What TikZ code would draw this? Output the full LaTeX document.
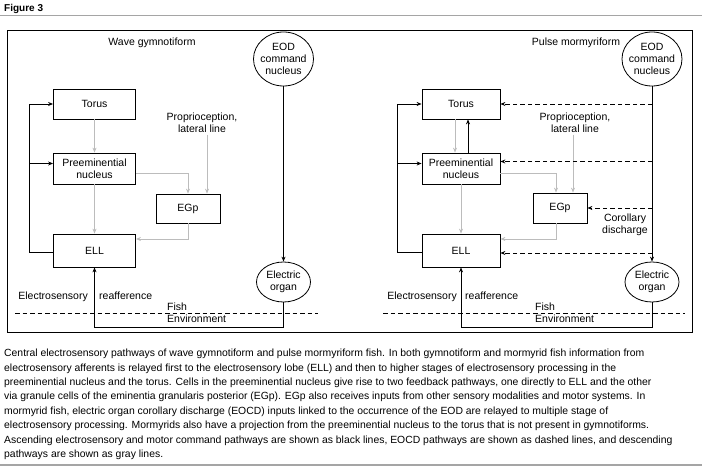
\documentclass[tikz,border=0pt]{standalone}
\usepackage{fontspec}
\setmainfont{Liberation Sans}
\usepackage{xcolor}
\usepackage{tikz}
\usetikzlibrary{arrows.meta,shapes.geometric,positioning}
\definecolor{descgray}{RGB}{188,188,188}
\definecolor{rulegray}{RGB}{165,165,165}
\newcommand{\labelfont}{\fontsize{10.5}{12}\selectfont}
\newcommand{\captionfont}{\fontsize{10.4}{14.4}\selectfont}

\begin{document}
\begin{tikzpicture}[x=1pt,y=-1pt,
  every node/.style={font=\labelfont, inner sep=0pt, align=center},
  stagebox/.style={draw, line width=.8pt, minimum width=82pt, minimum height=30pt},
  organ/.style={draw, ellipse, line width=.8pt, inner xsep=-6pt, inner ysep=-10pt},
  ascend/.style={line width=.8pt, -{Stealth[length=5pt,width=4pt]}},
  descend/.style={descgray, line width=.8pt, -{Stealth[length=5pt,width=4pt]}},
  eocd/.style={line width=.8pt, dash pattern=on 4.5pt off 3pt,
    -{Stealth[length=5pt,width=4pt]}},
  border/.style={line width=.8pt, dash pattern=on 4.5pt off 3pt}]
  \useasboundingbox (0,0) rectangle (702,470);

  % Heading, rule and the common frame of both panels.
  \node[font=\fontsize{10}{12}\selectfont\bfseries, anchor=base west]
    (figtitle) at (4,12) {Figure 3};
  \draw[rulegray, line width=1pt] (0,16) -- (702,16);
  \draw[line width=.8pt] (7,30) rectangle (692,332);

  % Wave gymnotiform.
  \node (wtitle) at (152,43) {Wave gymnotiform};
  \node[organ, minimum width=60pt, minimum height=54pt] (weod) at (283.5,59)
    {EOD\\command\\nucleus};
  \node[stagebox] (wtor) at (94.5,104) {Torus};
  \node[stagebox, minimum height=31pt] (wpre) at (94.5,168.5)
    {Preeminential\\nucleus};
  \node[stagebox, minimum width=64pt, minimum height=29pt] (wegp) at (188,208.5)
    {EGp};
  \node[stagebox, minimum height=33pt] (well) at (94.5,250.5) {ELL};
  \node[organ, minimum width=54pt, minimum height=40pt] (weo) at (283.5,282)
    {Electric\\organ};
  \node (wprop) at (202,122.5) {Proprioception,\\lateral line};

  \coordinate (wbend) at (29,252);
  \coordinate (wprein) at ([yshift=5pt]wpre.west);
  \draw[ascend] (well.west |- wbend) -- (wbend) |- (wtor.west);
  \draw[ascend] (wbend |- wprein) -- (wprein);
  \draw[descend] (wtor.south) -- (wpre.north);
  \draw[descend] (wpre.south) -- (well.north);
  \draw[descend] ([yshift=-4.5pt]wpre.east) -| (wegp.north);
  \draw[descend] (wegp.south) |- ([yshift=11.5pt]well.east);
  \coordinate (wpropout) at ([xshift=5pt,yshift=-2pt]wprop.south);
  \draw[descend] (wpropout) -- (wpropout |- wegp.north);
  \draw[ascend] (weod.south) -- (weo.north);

  \coordinate (wenv) at (283.5,327);
  \draw[ascend] (weo.south) -- (wenv) -| (well.south);
  \node[anchor=base east] (wes) at (88,300) {Electrosensory};
  \node[anchor=base west] (wrea) at (99,300) {reafference};
  \coordinate (wsl) at (15,313);
  \coordinate (wsr) at (318,313);
  \draw[border] (wsl) -- (wsr);
  \node[anchor=base west] (wfish) at (167,310.5) {Fish};
  \node[anchor=base west] (wenvt) at (167,323) {Environment};

  % Pulse mormyriform, with the corollary discharge inputs.
  \node (ptitle) at (576,43) {Pulse mormyriform};
  \node[organ, minimum width=60pt, minimum height=54pt] (peod) at (652,59)
    {EOD\\command\\nucleus};
  \node[stagebox, minimum width=78pt] (ptor) at (461,104) {Torus};
  \node[stagebox, minimum width=78pt, minimum height=31pt] (ppre) at (461,168.5)
    {Preeminential\\nucleus};
  \node[stagebox, minimum width=54pt] (pegp) at (560,208) {EGp};
  \node[stagebox, minimum width=78pt, minimum height=33pt] (pell) at (461,250.5)
    {ELL};
  \node[organ, minimum width=54pt, minimum height=40pt] (peo) at (652,282)
    {Electric\\organ};
  \node (pprop) at (575,122.5) {Proprioception,\\lateral line};
  \node (pcd) at (625,224.5) {Corollary\\discharge};

  \coordinate (pbend) at (397,252);
  \coordinate (pprein) at ([yshift=5pt]ppre.west);
  \draw[ascend] (pell.west |- pbend) -- (pbend) |- (ptor.west);
  \draw[ascend] (pbend |- pprein) -- (pprein);
  \draw[descend] ([xshift=-6pt]ptor.south) -- ([xshift=-6pt]ppre.north);
  \draw[ascend] ([xshift=7pt]ppre.north) -- ([xshift=7pt]ptor.south);
  \draw[descend] (ppre.south) -- (pell.north);
  \draw[descend] ([yshift=-4.5pt]ppre.east) -| ([xshift=-4pt]pegp.north);
  \draw[descend] ([xshift=-4pt]pegp.south) |- ([yshift=11.5pt]pell.east);
  \coordinate (ppropout) at ([xshift=-2pt,yshift=-2pt]pprop.south);
  \draw[descend] (ppropout) -- (ppropout |- pegp.north);

  \coordinate (ppreeocd) at ([yshift=7pt]ppre.east);
  \coordinate (pelleocd) at ([yshift=-2.5pt]pell.east);
  \draw[eocd] (peod.south |- ptor.east) -- (ptor.east);
  \draw[eocd] (peod.south |- ppreeocd) -- (ppreeocd);
  \draw[eocd] (peod.south |- pegp.east) -- (pegp.east);
  \draw[eocd] (peod.south |- pelleocd) -- (pelleocd);
  \draw[ascend] (peod.south) -- (peo.north);

  \coordinate (penv) at (652,327);
  \draw[ascend] (peo.south) -- (penv) -| (pell.south);
  \node[anchor=base east] (pes) at (457,300) {Electrosensory};
  \node[anchor=base west] (prea) at (465,300) {reafference};
  \coordinate (psl) at (383,313);
  \coordinate (psr) at (685,313);
  \draw[border] (psl) -- (psr);
  \node[anchor=base west] (pfish) at (535,310.5) {Fish};
  \node[anchor=base west] (penvt) at (535,323) {Environment};

  % Legend text below the frame.
  \node[font=\captionfont, anchor=north west, align=left] (legend) at (4,349)
    {Central electrosensory pathways of wave gymnotiform and pulse mormyriform fish. In both gymnotiform and mormyrid fish information from\\
     electrosensory afferents is relayed first to the electrosensory lobe (ELL) and then to higher stages of electrosensory processing in the\\
     preeminential nucleus and the torus. Cells in the preeminential nucleus give rise to two feedback pathways, one directly to ELL and the other\\
     via granule cells of the eminentia granularis posterior (EGp). EGp also receives inputs from other sensory modalities and motor systems. In\\
     mormyrid fish, electric organ corollary discharge (EOCD) inputs linked to the occurrence of the EOD are relayed to multiple stage of\\
     electrosensory processing. Mormyrids also have a projection from the preeminential nucleus to the torus that is not present in gymnotiforms.\\
     Ascending electrosensory and motor command pathways are shown as black lines, EOCD pathways are shown as dashed lines, and descending\\
     pathways are shown as gray lines.};
  \draw[rulegray, line width=2pt] (0,465) -- (702,465);
\end{tikzpicture}
\end{document}
